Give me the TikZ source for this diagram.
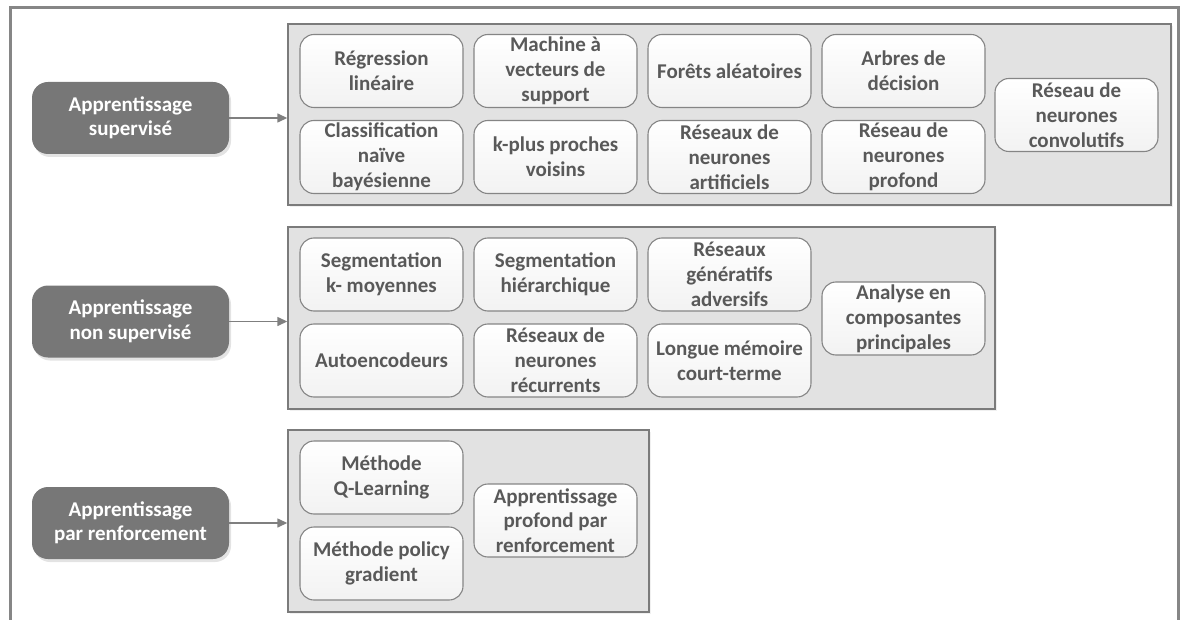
\documentclass[tikz,border=0pt]{standalone}
\usepackage{fontspec}
\setmainfont{Carlito}
\usetikzlibrary{arrows.meta,shadows}
\definecolor{framegray}{HTML}{868686}
\definecolor{panelfill}{HTML}{E2E2E2}
\definecolor{panelline}{HTML}{7B7B7B}
\definecolor{boxline}{HTML}{858585}
\definecolor{boxtext}{HTML}{595959}
\definecolor{catfill}{HTML}{777777}
\definecolor{arrowgray}{HTML}{7F7F7F}
\tikzset{
  panel/.style={draw=panelline, line width=1.4pt, fill=panelfill, inner sep=0pt,
    minimum width=#1, drop shadow={opacity=0.12, shadow xshift=2pt, shadow yshift=-2pt}},
  method/.style={draw=boxline, line width=1.1pt, rounded corners=14pt,
    top color=white, bottom color=black!5, inner sep=2pt,
    minimum width=163pt, minimum height=73pt, align=center, text=boxtext,
    font=\fontsize{21}{24.8}\selectfont\bfseries},
  category/.style={fill=catfill, rounded corners=16pt, inner sep=2pt,
    minimum width=197pt, minimum height=72pt, align=center, text=white,
    font=\fontsize{21}{24.5}\selectfont\bfseries,
    drop shadow={opacity=0.22, shadow xshift=2pt, shadow yshift=-3pt}},
  link/.style={draw=arrowgray, line width=1.4pt, -{Triangle[length=10pt,width=9pt]}}
}
\begin{document}
\begin{tikzpicture}[x=1pt,y=-1pt]
\useasboundingbox (0,0) rectangle (1182,620);
% outer frame, open at the bottom
\draw[framegray, line width=3pt] (10,625) -- (10,8) -- (1178,8) -- (1178,625);

% grey panels holding the methods
\node[panel=883pt, minimum height=181pt] (p1) at (729.5,114.5) {};
\node[panel=707pt, minimum height=182pt] (p2) at (641.5,318) {};
\node[panel=361pt, minimum height=182pt] (p3) at (468.5,521) {};

% supervised learning
\node[method] (rl)  at (381.5,71)  {Régression\\linéaire};
\node[method] (svm) at (555.5,71)  {Machine à\\vecteurs de\\support};
\node[method] (rf)  at (729.5,71)  {Forêts aléatoires};
\node[method] (dt)  at (903.5,71)  {Arbres de\\décision};
\node[method] (nb)  at (381.5,157) {Classification\\naïve\\bayésienne};
\node[method] (knn) at (555.5,157) {k-plus proches\\voisins};
\node[method] (ann) at (729.5,157) {Réseaux de\\neurones\\artificiels};
\node[method] (dnn) at (903.5,157) {Réseau de\\neurones\\profond};
\node[method] (cnn) at (1076.5,115) {Réseau de\\neurones\\convolutifs};

% unsupervised learning
\node[method] (km)  at (381.5,274.5) {Segmentation\\k- moyennes};
\node[method] (hc)  at (555.5,274.5) {Segmentation\\hiérarchique};
\node[method] (gan) at (729.5,274.5) {Réseaux\\génératifs\\adversifs};
\node[method] (ae)  at (381.5,360.5) {Autoencodeurs};
\node[method] (rnn) at (555.5,360.5) {Réseaux de\\neurones\\récurrents};
\node[method] (lstm) at (729.5,360.5) {Longue mémoire\\court-terme};
\node[method] (pca) at (903.5,318.5) {Analyse en\\composantes\\principales};

% reinforcement learning
\node[method] (ql)  at (381.5,477.5) {Méthode\\Q-Learning};
\node[method] (pg)  at (381.5,563.5) {Méthode policy\\gradient};
\node[method] (drl) at (555.5,520.5) {Apprentissage\\profond par\\renforcement};

% categories
\node[category] (sup)  at (130.5,118)   {Apprentissage\\supervisé};
\node[category] (uns)  at (130.5,321.5) {Apprentissage\\non supervisé};
\node[category] (renf) at (130.5,523)   {Apprentissage\\par renforcement};

% arrows from categories to panels
\draw[link] (sup.east)  -- (sup.east -| p1.west);
\draw[link] (uns.east)  -- (uns.east -| p2.west);
\draw[link] (renf.east) -- (renf.east -| p3.west);
\end{tikzpicture}
\end{document}
